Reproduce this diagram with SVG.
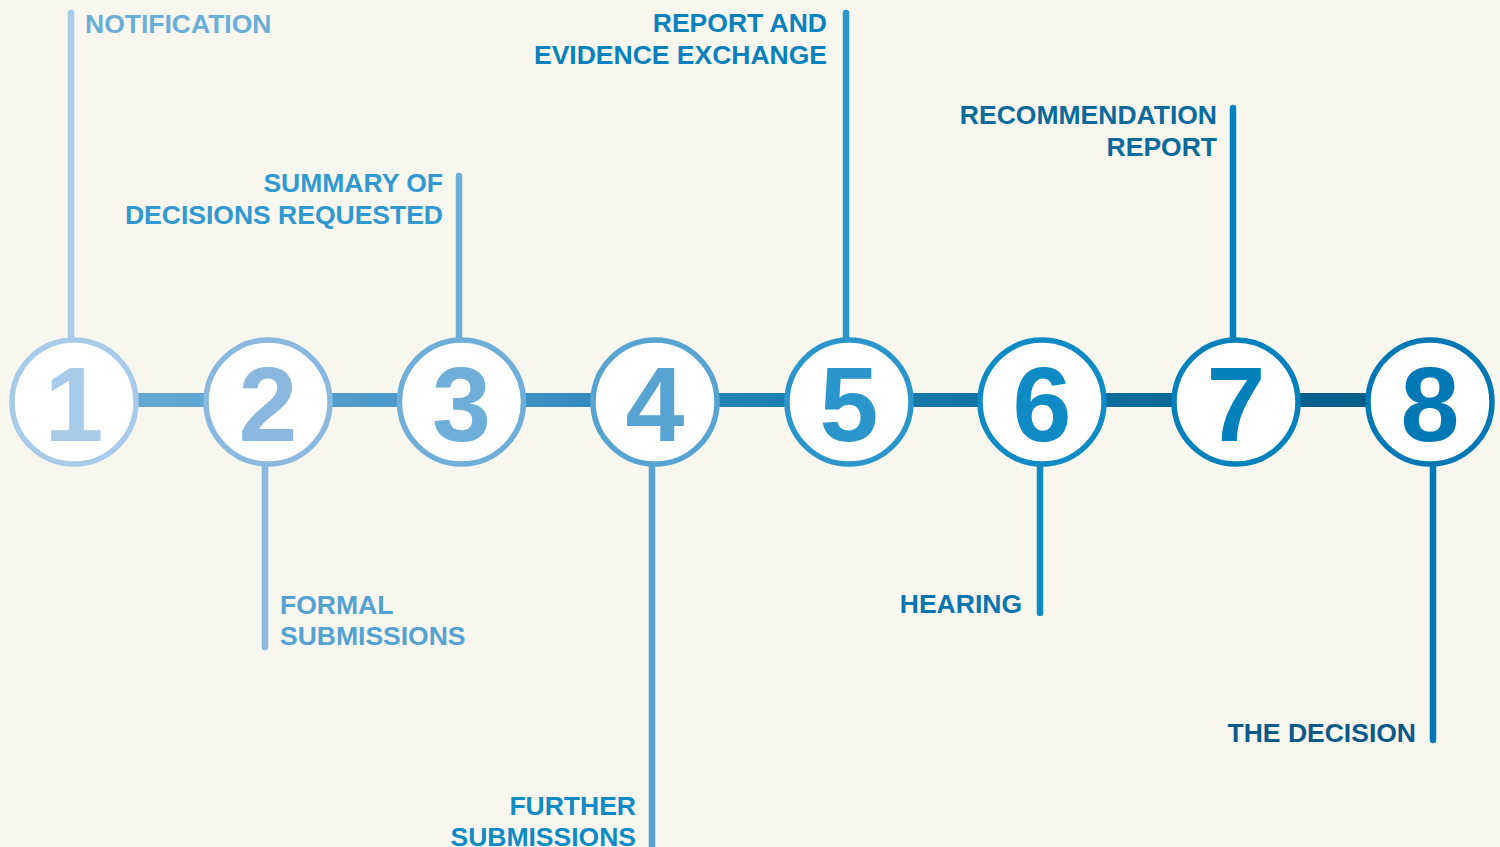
<svg xmlns="http://www.w3.org/2000/svg" width="1500" height="847" viewBox="0 0 1500 847">
<defs>
<linearGradient id="bar" gradientUnits="userSpaceOnUse" x1="74" y1="0" x2="1430" y2="0">
<stop offset="0" stop-color="#6eacd6"/>
<stop offset="0.3" stop-color="#4194c4"/>
<stop offset="0.55" stop-color="#1a7eb0"/>
<stop offset="1" stop-color="#005884"/>
</linearGradient>
<style>
.lead{fill:none;stroke-width:6.5;stroke-linecap:round}
.ring{fill:#ffffff;stroke-width:5.5}
.num{font-family:"Liberation Sans",Arial,sans-serif;font-weight:bold;font-size:106px;text-anchor:middle}
.lbl{font-family:"Liberation Sans",Arial,sans-serif;font-weight:bold;font-size:26.5px}
.r{text-anchor:end}
</style>
</defs>
<rect width="1500" height="847" fill="#f8f7ef"/>
<g id="connectors">
<rect x="74" y="393" width="1356" height="14" fill="url(#bar)"/>
</g>
<g id="node1">
<line class="lead" x1="71" y1="13" x2="71" y2="400" stroke="#a7cbe8"/>
<circle class="ring" cx="74" cy="402" r="62" stroke="#a7cbe8"/>
<text class="num" x="74" y="441" fill="#a7cbe8">1</text>
<text class="lbl" x="85" y="33" fill="#6aaed8">NOTIFICATION</text>
</g>
<g id="node2">
<line class="lead" x1="265" y1="402" x2="265" y2="647" stroke="#8ab8de"/>
<circle class="ring" cx="268" cy="402" r="62" stroke="#8ab8de"/>
<text class="num" x="268" y="441" fill="#8ab8de">2</text>
<text class="lbl" x="280" y="614" fill="#54a2d2">FORMAL</text>
<text class="lbl" x="280" y="645" fill="#54a2d2">SUBMISSIONS</text>
</g>
<g id="node3">
<line class="lead" x1="459" y1="176" x2="459" y2="400" stroke="#6eaed8"/>
<circle class="ring" cx="461.5" cy="402" r="62" stroke="#6eaed8"/>
<text class="num" x="461.5" y="441" fill="#6eaed8">3</text>
<text class="lbl r" x="443" y="192" fill="#3199cf">SUMMARY OF</text>
<text class="lbl r" x="443" y="224" fill="#3199cf">DECISIONS REQUESTED</text>
</g>
<g id="node4">
<line class="lead" x1="652" y1="402" x2="652" y2="860" stroke="#57a3d2"/>
<circle class="ring" cx="655" cy="402" r="62" stroke="#57a3d2"/>
<text class="num" x="655" y="441" fill="#57a3d2">4</text>
<text class="lbl r" x="636" y="815" fill="#0e8bc4">FURTHER</text>
<text class="lbl r" x="636" y="846" fill="#0e8bc4">SUBMISSIONS</text>
</g>
<g id="node5">
<line class="lead" x1="846" y1="13" x2="846" y2="400" stroke="#2a96cc"/>
<circle class="ring" cx="849" cy="402" r="62" stroke="#2a96cc"/>
<text class="num" x="849" y="441" fill="#2a96cc">5</text>
<text class="lbl r" x="827" y="32" fill="#0881bd">REPORT AND</text>
<text class="lbl r" x="827" y="64" fill="#0881bd">EVIDENCE EXCHANGE</text>
</g>
<g id="node6">
<line class="lead" x1="1040" y1="402" x2="1040" y2="613" stroke="#0e8bc4"/>
<circle class="ring" cx="1042" cy="402" r="62" stroke="#0e8bc4"/>
<text class="num" x="1042" y="441" fill="#0e8bc4">6</text>
<text class="lbl r" x="1022" y="613" fill="#0775b0">HEARING</text>
</g>
<g id="node7">
<line class="lead" x1="1233" y1="108" x2="1233" y2="400" stroke="#0281bd"/>
<circle class="ring" cx="1236" cy="402" r="62" stroke="#0281bd"/>
<text class="num" x="1236" y="441" fill="#0281bd">7</text>
<text class="lbl r" x="1217" y="124" fill="#0a6a9c">RECOMMENDATION</text>
<text class="lbl r" x="1217" y="156" fill="#0a6a9c">REPORT</text>
</g>
<g id="node8">
<line class="lead" x1="1433" y1="402" x2="1433" y2="740" stroke="#0078b5"/>
<circle class="ring" cx="1430" cy="402" r="62" stroke="#0078b5"/>
<text class="num" x="1430" y="441" fill="#0078b5">8</text>
<text class="lbl r" x="1416" y="742" fill="#0a5a8a">THE DECISION</text>
</g>
</svg>
